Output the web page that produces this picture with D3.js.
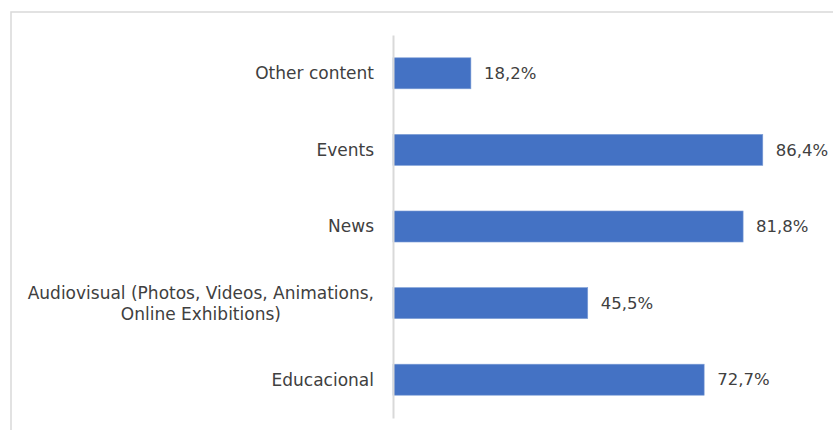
<!DOCTYPE html>
<html>
<head>
<meta charset="utf-8">
<script src="https://cdn.jsdelivr.net/npm/d3@7"></script>
<style>
  html, body { margin: 0; padding: 0; background: #fff; }
  svg { display: block; }
</style>
</head>
<body>
<svg id="chart" width="833" height="430"></svg>
<script>
const categories = [
  "Other content",
  "Events",
  "News",
  "Audiovisual (Photos, Videos, Animations,|Online Exhibitions)",
  "Educacional"
];
const values = [18.2, 86.4, 81.8, 45.5, 72.7];
const valueLabels = ["18,2%", "86,4%", "81,8%", "45,5%", "72,7%"];

const W = 833, H = 430;
const margin = { left: 393, right: 12, top: 35, bottom: 12 };
const svg = d3.select("#chart");
const font = "'DejaVu Sans', sans-serif";
const textColor = "#404040";

// frame
svg.append("rect")
  .attr("x", 11).attr("y", 12)
  .attr("width", 900).attr("height", 500)
  .attr("fill", "none")
  .attr("stroke", "#d9d9d9")
  .attr("stroke-width", 1.5);

const x = d3.scaleLinear().domain([0, 100]).range([margin.left, margin.left + 428]);
const y = d3.scaleBand().domain(categories).range([35, 418]).paddingInner(0.595).paddingOuter(0.2975);

// bars
svg.append("g").selectAll("rect")
  .data(categories)
  .join("rect")
  .attr("x", x(0))
  .attr("y", d => y(d))
  .attr("width", (d, i) => x(values[i]) - x(0))
  .attr("height", y.bandwidth())
  .attr("fill", "#4472C4")
  .attr("stroke", "#7f9fd6")
  .attr("stroke-width", 0.6);

// axis
const yAxis = d3.axisLeft(y).tickSize(0).tickPadding(19).tickFormat(() => "");
const ag = svg.append("g").attr("transform", `translate(${x(0)},0)`).call(yAxis);
ag.select(".domain").attr("stroke", "#d9d9d9").attr("stroke-width", 2);

// category labels
ag.selectAll(".tick").each(function(d) {
  const t = d3.select(this).select("text");
  const lines = d.split("|");
  t.text(null)
    .attr("font-family", font)
    .attr("font-size", 17)
    .attr("fill", textColor)
    .attr("dy", null);
  if (lines.length === 1) {
    t.attr("text-anchor", "end").attr("x", -19).attr("dy", "0.35em").text(lines[0]);
  } else {
    const tmp = t.append("tspan").text(lines[0]);
    const w = this.querySelector("text").getComputedTextLength();
    tmp.remove();
    const cx = -19 - w / 2;
    t.attr("text-anchor", "middle").attr("x", cx);
    const lh = 21;
    lines.forEach((ln, k) => {
      t.append("tspan")
        .attr("x", cx)
        .attr("y", (k - (lines.length - 1) / 2) * lh)
        .attr("dy", "0.35em")
        .text(ln);
    });
  }
});

// value labels
svg.append("g").selectAll("text")
  .data(categories)
  .join("text")
  .attr("x", (d, i) => x(values[i]) + 13)
  .attr("y", d => y(d) + y.bandwidth() / 2)
  .attr("dy", "0.35em")
  .attr("font-family", font)
  .attr("font-size", 16.5)
  .attr("fill", textColor)
  .text((d, i) => valueLabels[i]);
</script>
</body>
</html>
